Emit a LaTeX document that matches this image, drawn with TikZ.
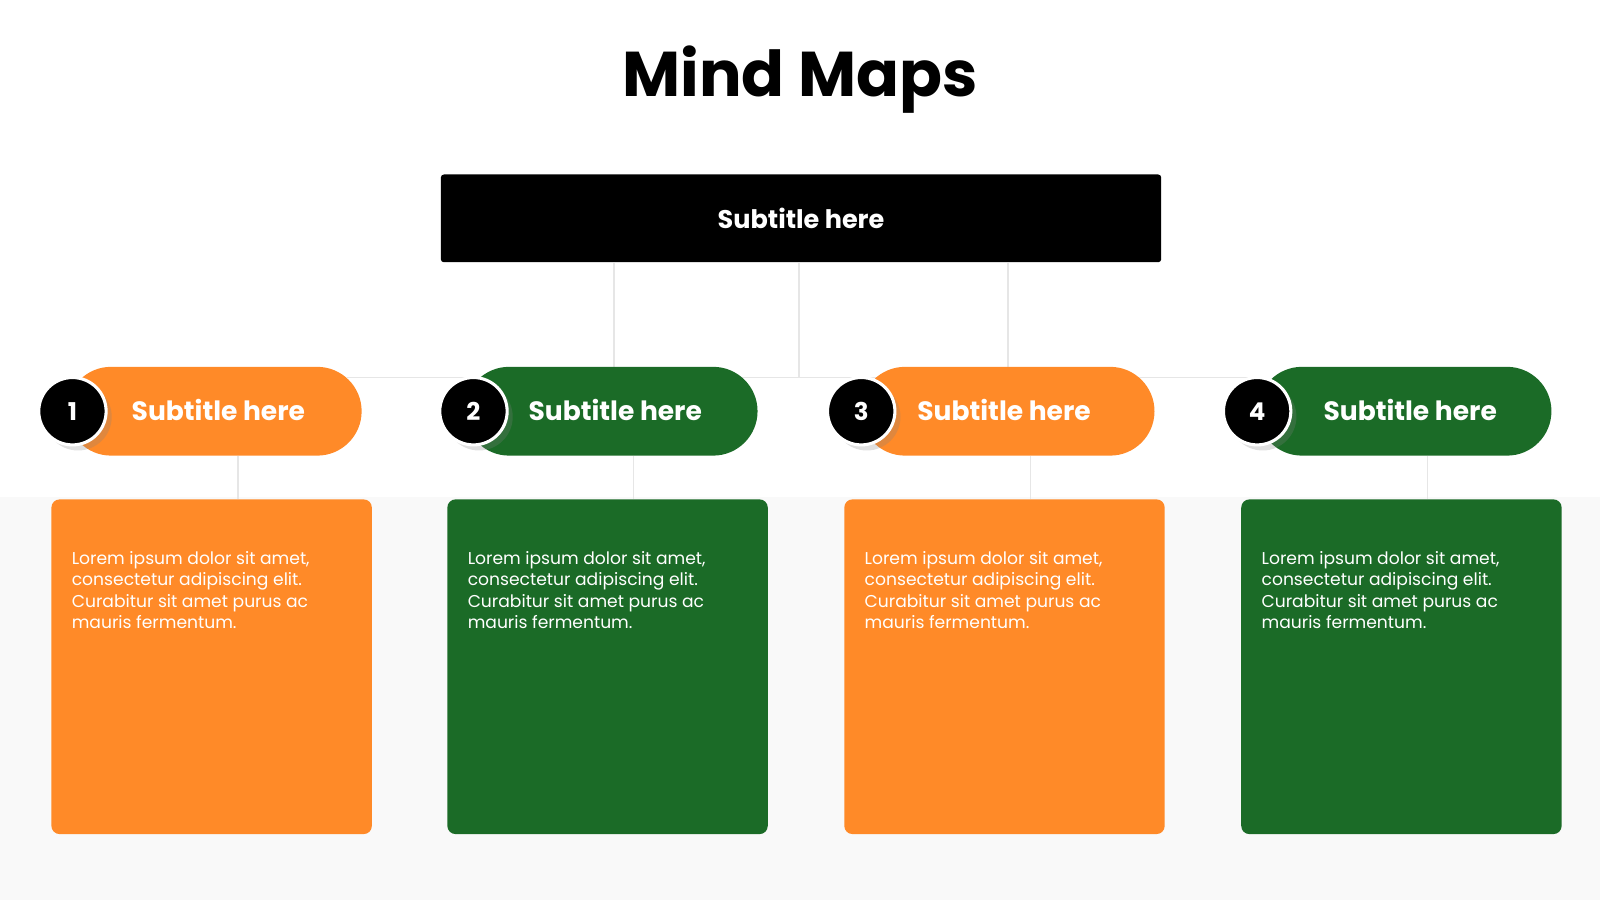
\documentclass[tikz,border=0pt]{standalone}
\usepackage{fontspec}
\setmainfont{Poppins}
\usetikzlibrary{shadows}
\definecolor{mmorange}{HTML}{FF8A28}
\definecolor{mmgreen}{HTML}{1B6B27}
\definecolor{mmline}{HTML}{E6E6E6}
\definecolor{mmband}{HTML}{F9F9F9}
\tikzset{
  pill/.style={fill=#1, rounded corners=21.75pt, minimum height=43.5pt, inner sep=0pt},
  card/.style={fill=#1, rounded corners=4pt, minimum width=157pt, minimum height=164pt, inner sep=0pt},
  numdot/.style={circle, fill=black, draw=white, line width=1.5pt, minimum size=33pt, inner sep=0pt,
    text=white, font=\bfseries\fontsize{12}{14}\selectfont, drop shadow={opacity=0.25}},
  link/.style={draw=mmline, line width=0.8pt}
}
\begin{document}
\begin{tikzpicture}[x=0.5pt, y=-0.5pt]
  \useasboundingbox (0,0) rectangle (1568,882);
  \fill[mmband] (0,487) rectangle (1568,882);

  \node[font=\bfseries\fontsize{31}{36}\selectfont] (title) at (784,78) {Mind Maps};
  \node[fill=black, rounded corners=1.5pt, minimum width=353pt, minimum height=43pt,
    text=white, font=\fontsize{12.5}{15}\selectfont\bfseries] (top) at (785,214) {Subtitle here};

  % connectors
  \coordinate (hl) at (340,370);
  \coordinate (hr) at (1240,370);
  \draw[link] (hl) -- (hr);
  \foreach \x in {602,783,988}
    \draw[link] (top.south -| \x,0) -- (\x,370);

  \foreach \i/\px/\pw/\cx/\tx/\kx/\col in {1/65/289/71/122/207/mmorange, 2/455/287/464/511/595/mmgreen,
      3/843/288/844/892/984/mmorange, 4/1232/288/1232/1290/1373/mmgreen}{
    \draw[link] (\kx+26,447) -- (\kx+26,489);
    \node[card=\col, anchor=north west] (card\i) at (\kx-157,489) {};
    \node[pill=\col, minimum width=\pw*0.5pt, anchor=west] (pill\i) at (\px,403) {};
    \node[anchor=west, text=white, font=\fontsize{13}{15}\selectfont\bfseries] (sub\i) at (\tx,402) {Subtitle here};
    \node[numdot] (num\i) at (\cx,403) {\i};
    \node[anchor=north west, text=white, align=left, inner sep=0pt,
      font=\fontsize{8.4}{10.5}\selectfont] (txt\i) at (\kx-137,540)
      {Lorem ipsum dolor sit amet,\\consectetur adipiscing elit.\\Curabitur sit amet purus ac\\mauris fermentum.};
  }
\end{tikzpicture}
\end{document}
